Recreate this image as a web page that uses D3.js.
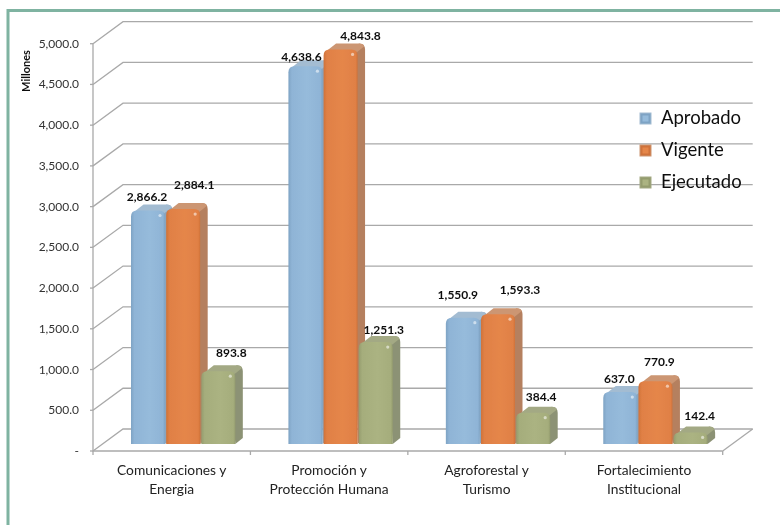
<!DOCTYPE html>
<html>
<head>
<meta charset="utf-8">
<script src="https://cdn.jsdelivr.net/npm/d3@7"></script>
<style>
    html, body { margin: 0; padding: 0; background: #fff; }
    text { font-family: Lato, sans-serif; }
</style>
</head>
<body>
<div id="chart"></div>
<script>
const categories = [
    ["Comunicaciones y", "Energia"],
    ["Promoción y", "Protección Humana"],
    ["Agroforestal y", "Turismo"],
    ["Fortalecimiento", "Institucional"]
]
const seriesNames = ["Aprobado", "Vigente", "Ejecutado"]
const aprobado = [2866.2, 4638.6, 1550.9, 637.0]
const vigente = [2884.1, 4843.8, 1593.3, 770.9]
const ejecutado = [893.8, 1251.3, 384.4, 142.4]
const yTicks = [0, 500, 1000, 1500, 2000, 2500, 3000, 3500, 4000, 4500, 5000]

const allValues = [aprobado, vigente, ejecutado]
const colors = [
    {id: "apr", light: "#96bbdb", main: "#8fb4d6", dark: "#7ea3c4", side: "#8ba4bd", top: "#a3bcd2"},
    {id: "vig", light: "#e5864a", main: "#e08045", dark: "#cf723a", side: "#b5805f", top: "#cc9673"},
    {id: "eje", light: "#abb382", main: "#a5ad7c", dark: "#949c6e", side: "#8c9274", top: "#a3a984"}
]

// hand placed labels in the original, so nudge them from the bar centre
const labelShift = [
    [[-1, -10], [11, -20], [13, -14]],
    [[-4, -5], [20, -9], [8, -8]],
    [[-5, -19], [22, -20], [8, -12]],
    [[-1, -9], [4, -15], [9, -12]]
]

const width = 780, height = 525
const depthX = 30, depthY = -22
const x0 = 93, x1 = 722.7, y0 = 451, yTop = 43.7

const svg = d3.select("#chart").append("svg")
    .attr("width", width)
    .attr("height", height)
    .style("display", "block")

const defs = svg.append("defs")
defs.append("filter").attr("id", "soft")
    .append("feGaussianBlur").attr("stdDeviation", 0.4)

colors.forEach(c => {
    const g = defs.append("linearGradient").attr("id", "grad-" + c.id)
    g.append("stop").attr("offset", "0%").attr("stop-color", c.dark)
    g.append("stop").attr("offset", "10%").attr("stop-color", c.main)
    g.append("stop").attr("offset", "55%").attr("stop-color", c.light)
    g.append("stop").attr("offset", "94%").attr("stop-color", c.main)
    g.append("stop").attr("offset", "100%").attr("stop-color", c.dark)
})

const root = svg.append("g").attr("filter", "url(#soft)")

// frame
root.append("path")
    .attr("d", `M8,525 V10.5 H780`)
    .attr("fill", "none")
    .attr("stroke", "#7fb3a1")
    .attr("stroke-width", 3)

const x = d3.scaleBand().domain(d3.range(categories.length)).range([x0, x1])
const barBand = d3.scaleBand().domain(d3.range(seriesNames.length)).range([38, 143.5])
const y = d3.scaleLinear().domain([0, 5000]).range([y0, yTop])

const gridColor = "#a9a9a9"

// floor and walls
const grid = root.append("g")
    .attr("fill", "none")
    .attr("stroke", gridColor)
    .attr("stroke-width", 1.3)

grid.selectAll("path.grid")
    .data(yTicks)
    .enter()
    .append("path")
    .attr("class", "grid")
    .attr("d", d => `M${x0},${y(d)} L${x0 + depthX},${y(d) + depthY} H${x1 + depthX}`)

grid.append("path").attr("d", `M${x1 + depthX},${y0 + depthY} L${x1},${y0}`)

const axis = root.append("g")
    .attr("stroke", gridColor)
    .attr("stroke-width", 1.3)
    .attr("fill", "none")

axis.append("path").attr("d", `M${x0},${yTop} V${y0} H${x1}`)
axis.selectAll("line.ytick")
    .data(yTicks)
    .enter()
    .append("line")
    .attr("class", "ytick")
    .attr("x1", x0 - 3)
    .attr("x2", x0)
    .attr("y1", d => y(d))
    .attr("y2", d => y(d))
axis.selectAll("line.xtick")
    .data(d3.range(categories.length + 1))
    .enter()
    .append("line")
    .attr("class", "xtick")
    .attr("x1", d => x0 + d * x.bandwidth())
    .attr("x2", d => x0 + d * x.bandwidth())
    .attr("y1", y0)
    .attr("y2", y0 + 4)

const fmt = d3.format(",.1f")

root.append("g").selectAll("text")
    .data(yTicks)
    .enter()
    .append("text")
    .attr("x", 79)
    .attr("y", d => y(d) + 4)
    .attr("text-anchor", "end")
    .attr("font-size", 12)
    .attr("fill", "#333")
    .text(d => d === 0 ? "-" : fmt(d))

root.append("text")
    .attr("transform", "translate(30,71) rotate(-90)")
    .attr("text-anchor", "middle")
    .attr("font-size", 11)
    .attr("font-weight", 700)
    .attr("fill", "#111")
    .text("Millones")

// bars
const barW = 34, sideX = 7.5, sideY = -6, lift = 7, r = 6

function drawBar(g, left, top, bottom, c) {
    const right = left + barW
    const backTop = top + sideY, backRight = right + sideX
    // side, runs under the top face
    g.append("path")
        .attr("d", `M${right},${bottom} L${backRight},${bottom + sideY} V${backTop + r} Q${backRight},${backTop} ${backRight - r},${backTop} L${right - r},${top} Z`)
        .attr("fill", c.side)
    // top face
    g.append("path")
        .attr("d", `M${left + 1},${top + 3} L${left + r + sideX - 1},${backTop} H${backRight - r} Q${backRight - 1},${backTop} ${backRight - 1},${backTop + 3} L${right - 1},${top + 3} Z`)
        .attr("fill", c.top)
    // front
    g.append("path")
        .attr("d", `M${left},${bottom} V${top + r} Q${left},${top} ${left + r},${top} H${right - r} Q${right},${top} ${right},${top + r} V${bottom} Z`)
        .attr("fill", `url(#grad-${c.id})`)
    g.append("circle")
        .attr("cx", right - 5)
        .attr("cy", top + 5)
        .attr("r", 1.6)
        .attr("fill", "#fff")
        .attr("opacity", 0.55)
}

const bars = root.append("g")
const labels = root.append("g")

categories.forEach((cat, i) => {
    seriesNames.forEach((name, s) => {
        const v = allValues[s][i]
        const left = x(i) + barBand(s)
        const top = y(v) - lift
        drawBar(bars.append("g"), left, top, y0 - lift, colors[s])

        labels.append("text")
            .attr("x", left + barW / 2 + labelShift[i][s][0])
            .attr("y", top + labelShift[i][s][1])
            .attr("text-anchor", "middle")
            .attr("font-size", 12)
            .attr("font-weight", 700)
            .attr("fill", "#111")
            .text(fmt(v))
    })
})

// category labels
const catLabels = root.append("g").selectAll("text")
    .data(categories)
    .enter()
    .append("text")
    .attr("text-anchor", "middle")
    .attr("font-size", 13.8)
    .attr("fill", "#222")

catLabels.selectAll("tspan")
    .data((d, i) => d.map(t => ({t, i})))
    .enter()
    .append("tspan")
    .attr("x", d => x(d.i) + x.bandwidth() / 2)
    .attr("y", (d, j) => 475 + j * 19)
    .text(d => d.t)

// legend
const legend = root.append("g").selectAll("g")
    .data(seriesNames)
    .enter()
    .append("g")
    .attr("transform", (d, i) => `translate(640,${113 + i * 32})`)

legend.append("rect")
    .attr("width", 11)
    .attr("height", 11)
    .attr("fill", (d, i) => colors[i].dark)
    .attr("stroke", (d, i) => colors[i].top)
    .attr("stroke-width", 1)

legend.append("rect")
    .attr("x", 2.5)
    .attr("y", 2.5)
    .attr("width", 6)
    .attr("height", 6)
    .attr("fill", (d, i) => colors[i].light)

legend.append("text")
    .attr("x", 21)
    .attr("y", 11)
    .attr("font-size", 18.5)
    .attr("fill", "#111")
    .text(d => d)
</script>
</body>
</html>
